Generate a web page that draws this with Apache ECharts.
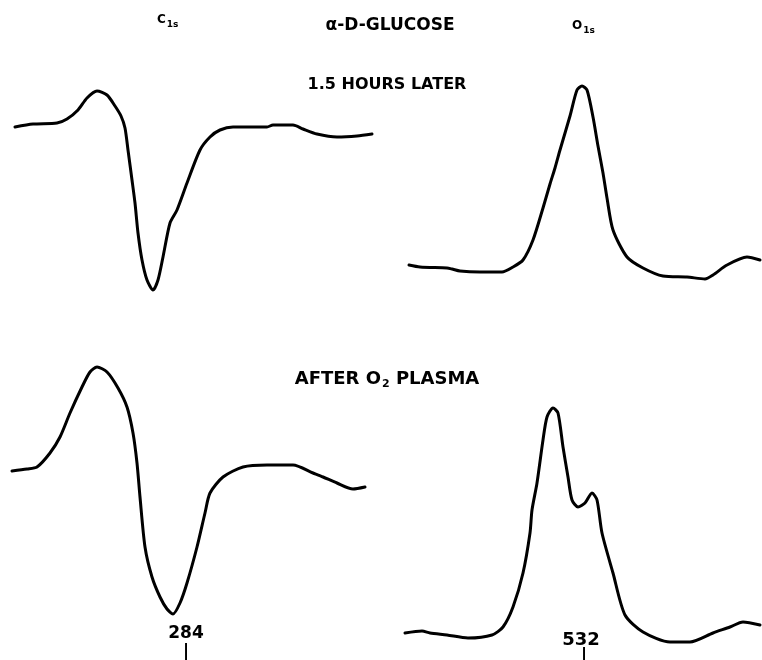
<!DOCTYPE html>
<html>
<head>
<meta charset="utf-8">
<script src="https://cdn.jsdelivr.net/npm/echarts@6/dist/echarts.min.js"></script>
<style>html,body{margin:0;padding:0;background:#fff}#c{width:762px;height:660px}</style>
</head>
<body>
<div id="c"></div>
<script>
// Panel A: C1s, 1.5 hours later (x: channel, y: intensity, arbitrary units)
const c1sLaterX = [15,33,57,67,78,87,97,107,115,121,125,128,132,135,138,142,147,153,158,163,170,177,187,200,210,220,233,250,267,273,293,303,317,337,357,372];
const c1sLaterY = [183,186,187,191,200,212,219,215,204,194,182,160,130,107,77,50,30,20,30,53,87,100,127,160,173,180,183,183,183,185,185,181,176,173,174,176];
// Panel B: O1s, 1.5 hours later
const o1sLaterX = [29,40,67,72,80,100,122,133,143,153,163,170,175,180,190,197,202,207,213,218,223,227,233,247,263,283,307,325,333,347,367,380];
const o1sLaterY = [45,43,42,41,39,38,38,43,50,70,102,126,142,160,194,220,224,220,193,164,137,112,80,53,42,34,33,31,35,45,53,50];
// Panel C: C1s, after O2 plasma
const c1sPlasmaX = [12,27,37,50,60,70,82,90,97,107,118,127,133,137,140,145,152,160,167,173,180,187,197,205,210,223,243,267,293,313,323,337,353,365];
const c1sPlasmaY = [189,191,193,207,223,247,273,288,293,288,272,253,227,197,163,113,83,63,51,46,57,77,113,147,167,183,193,195,195,187,183,177,171,173];
// Panel D: O1s, after O2 plasma
const o1sPlasmaX = [25,42,50,67,88,112,123,133,143,150,152,157,163,167,173,178,183,188,192,198,205,212,217,222,233,245,263,290,310,333,350,363,380];
const o1sPlasmaY = [27,29,27,25,22,25,33,53,87,127,150,177,220,243,252,247,213,183,160,153,157,167,160,127,87,45,28,18,18,27,33,38,35];

const titleMain = 'α-D-GLUCOSE';
const rowLabels = ['1.5 HOURS LATER', 'AFTER O'];
const energyLabels = ['284', '532'];

const zip = (xs, ys) => xs.map((x, i) => [x, ys[i]]);

const grids = [
  {left: 0, top: 60, width: 380, height: 250},
  {left: 380, top: 60, width: 382, height: 250},
  {left: 0, top: 340, width: 380, height: 320},
  {left: 380, top: 340, width: 382, height: 320}
];
const panels = [
  zip(c1sLaterX, c1sLaterY),
  zip(o1sLaterX, o1sLaterY),
  zip(c1sPlasmaX, c1sPlasmaY),
  zip(o1sPlasmaX, o1sPlasmaY)
];

const FONT = 'DejaVu Sans';
const baseText = {fontFamily: FONT, fontWeight: 'bold', color: '#000'};

const option = {
  backgroundColor: '#fff',
  animation: false,
  grid: grids,
  xAxis: grids.map((g, i) => ({type: 'value', gridIndex: i, min: 0, max: g.width, show: false})),
  yAxis: grids.map((g, i) => ({type: 'value', gridIndex: i, min: 0, max: g.height, show: false})),
  title: [
    {text: '{m|C}{s|1s}', left: 157, top: 10, padding: 0,
      textStyle: {rich: {m: Object.assign({fontSize: 12}, baseText), s: Object.assign({fontSize: 9, padding: [10, 0, 0, 1]}, baseText)}}},
    {text: titleMain, left: 390, top: 17, padding: 0, textAlign: 'center',
      textStyle: Object.assign({fontSize: 17}, baseText)},
    {text: '{m|O}{s|1s}', left: 572, top: 16, padding: 0,
      textStyle: {rich: {m: Object.assign({fontSize: 12}, baseText), s: Object.assign({fontSize: 9, padding: [10, 0, 0, 1]}, baseText)}}},
    {text: rowLabels[0], left: 387, top: 77, padding: 0, textAlign: 'center',
      textStyle: Object.assign({fontSize: 16}, baseText)},
    {text: '{m|' + rowLabels[1] + '}{s|2}{m| PLASMA}', left: 387, top: 369, padding: 0, textAlign: 'center',
      textStyle: {rich: {m: Object.assign({fontSize: 18}, baseText), s: Object.assign({fontSize: 11, padding: [10, 0, 0, 1]}, baseText)}}},
    {text: energyLabels[0], left: 186, top: 625, padding: 0, textAlign: 'center',
      textStyle: Object.assign({fontSize: 17}, baseText)},
    {text: '|', left: 186, top: 643, padding: 0, textAlign: 'center',
      textStyle: Object.assign({fontSize: 18}, baseText)},
    {text: energyLabels[1], left: 581, top: 631, padding: 0, textAlign: 'center',
      textStyle: Object.assign({fontSize: 18}, baseText)},
    {text: '|', left: 584, top: 647, padding: 0, textAlign: 'center',
      textStyle: Object.assign({fontSize: 18}, baseText)}
  ],
  series: panels.map((d, i) => ({
    type: 'line', xAxisIndex: i, yAxisIndex: i, data: d,
    showSymbol: false, smooth: 0.25,
    lineStyle: {color: '#000', width: 3, cap: 'round', join: 'round'}
  }))
};

const chart = echarts.init(document.getElementById('c'), null, {renderer: 'canvas'});
chart.setOption(option);
</script>
</body>
</html>
